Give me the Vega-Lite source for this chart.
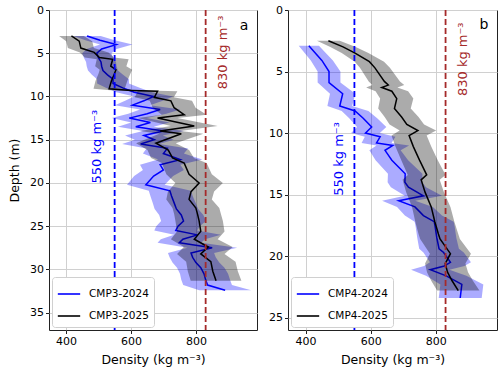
{
  "$schema": "https://vega.github.io/schema/vega-lite/v6.json",
  "padding": {"left": 8, "top": 3, "right": 2, "bottom": 2},
  "spacing": 10,
  "config": {
    "font": "DejaVu Sans",
    "view": {"stroke": "#222222", "strokeWidth": 1},
    "axis": {
      "domain": false, "grid": true, "gridColor": "#d0d0d0", "gridWidth": 1,
      "tickColor": "#222222", "tickSize": 3.5, "labelPadding": 2,
      "labelFontSize": 11, "labelColor": "black", "labelFont": "DejaVu Sans",
      "titleFontSize": 12.5, "titleFontWeight": "normal", "titleColor": "black", "titleFont": "DejaVu Sans"
    },
    "legend": {
      "orient": "bottom-left", "offset": 3, "padding": 5, "fillColor": "white",
      "strokeColor": "#d0d0d0", "cornerRadius": 3, "symbolType": "stroke",
      "symbolSize": 500, "symbolStrokeWidth": 1.6, "labelFontSize": 10.5,
      "labelFont": "DejaVu Sans", "labelColor": "black", "rowPadding": 4, "labelOffset": 8
    }
  },
  "resolve": {"scale": {"y": "independent", "color": "independent"}, "legend": {"color": "independent"}},
  "datasets": {
    "a24": [
      {"depth":3.0,"d":465,"lo":423,"hi":507},{"depth":3.5,"d":505,"lo":460,"hi":550},{"depth":4.0,"d":555,"lo":505,"hi":605},
      {"depth":4.5,"d":510,"lo":464,"hi":556},{"depth":5.0,"d":495,"lo":450,"hi":540},{"depth":5.5,"d":500,"lo":455,"hi":545},
      {"depth":6.0,"d":508,"lo":462,"hi":554},{"depth":6.5,"d":510,"lo":464,"hi":556},{"depth":7.0,"d":514,"lo":468,"hi":560},
      {"depth":7.5,"d":528,"lo":480,"hi":576},{"depth":8.0,"d":545,"lo":496,"hi":594},{"depth":8.5,"d":545,"lo":496,"hi":594},
      {"depth":9.0,"d":575,"lo":523,"hi":627},{"depth":9.5,"d":610,"lo":555,"hi":665},{"depth":10.0,"d":670,"lo":610,"hi":730},
      {"depth":10.5,"d":640,"lo":582,"hi":698},{"depth":11.0,"d":605,"lo":551,"hi":659},{"depth":11.5,"d":690,"lo":628,"hi":752},
      {"depth":12.0,"d":650,"lo":592,"hi":709},{"depth":12.5,"d":595,"lo":541,"hi":649},{"depth":13.0,"d":660,"lo":601,"hi":719},
      {"depth":13.5,"d":615,"lo":560,"hi":670},{"depth":14.0,"d":700,"lo":637,"hi":763},{"depth":14.5,"d":640,"lo":582,"hi":698},
      {"depth":15.0,"d":672,"lo":612,"hi":732},{"depth":15.5,"d":630,"lo":573,"hi":687},{"depth":16.0,"d":712,"lo":648,"hi":776},
      {"depth":16.6,"d":700,"lo":637,"hi":763},{"depth":17.3,"d":752,"lo":684,"hi":820},{"depth":17.9,"d":690,"lo":628,"hi":752},
      {"depth":18.5,"d":700,"lo":637,"hi":763},{"depth":19.2,"d":670,"lo":610,"hi":730},{"depth":20.2,"d":646,"lo":588,"hi":704},
      {"depth":20.9,"d":720,"lo":655,"hi":785},{"depth":21.5,"d":725,"lo":660,"hi":790},{"depth":22.3,"d":733,"lo":667,"hi":799},
      {"depth":23.0,"d":740,"lo":673,"hi":807},{"depth":23.7,"d":755,"lo":687,"hi":823},{"depth":24.4,"d":762,"lo":693,"hi":831},
      {"depth":25.0,"d":745,"lo":678,"hi":812},{"depth":25.5,"d":738,"lo":672,"hi":804},{"depth":26.0,"d":805,"lo":733,"hi":877},
      {"depth":26.5,"d":760,"lo":692,"hi":828},{"depth":26.9,"d":749,"lo":682,"hi":816},{"depth":27.5,"d":850,"lo":774,"hi":927},
      {"depth":28.1,"d":785,"lo":714,"hi":856},{"depth":28.6,"d":790,"lo":719,"hi":861},{"depth":29.2,"d":800,"lo":728,"hi":872},
      {"depth":29.8,"d":815,"lo":742,"hi":888},{"depth":30.5,"d":825,"lo":751,"hi":899},{"depth":31.2,"d":830,"lo":755,"hi":905},
      {"depth":31.8,"d":836,"lo":761,"hi":911},{"depth":32.4,"d":890,"lo":810,"hi":970}
    ],
    "a25": [
      {"depth":3.0,"d":417,"lo":379,"hi":455},{"depth":3.6,"d":441,"lo":401,"hi":481},{"depth":4.4,"d":446,"lo":406,"hi":486},
      {"depth":4.9,"d":487,"lo":443,"hi":531},{"depth":5.5,"d":503,"lo":458,"hi":548},{"depth":5.7,"d":544,"lo":495,"hi":593},
      {"depth":6.5,"d":538,"lo":490,"hi":586},{"depth":6.9,"d":554,"lo":504,"hi":604},{"depth":7.4,"d":549,"lo":500,"hi":598},
      {"depth":8.2,"d":540,"lo":491,"hi":589},{"depth":9.1,"d":533,"lo":485,"hi":581},{"depth":9.3,"d":600,"lo":546,"hi":654},
      {"depth":9.4,"d":682,"lo":621,"hi":743},{"depth":10.1,"d":672,"lo":612,"hi":732},{"depth":10.5,"d":723,"lo":658,"hi":788},
      {"depth":11.3,"d":733,"lo":667,"hi":799},{"depth":12.1,"d":764,"lo":695,"hi":833},{"depth":12.5,"d":682,"lo":621,"hi":743},
      {"depth":13.4,"d":795,"lo":723,"hi":867},{"depth":14.0,"d":690,"lo":628,"hi":752},{"depth":14.3,"d":755,"lo":687,"hi":823},
      {"depth":15.4,"d":677,"lo":616,"hi":738},{"depth":16.2,"d":715,"lo":651,"hi":779},{"depth":17.1,"d":728,"lo":662,"hi":794},
      {"depth":17.7,"d":764,"lo":695,"hi":833},{"depth":19.0,"d":779,"lo":709,"hi":849},{"depth":20.0,"d":810,"lo":737,"hi":883},
      {"depth":21.0,"d":785,"lo":714,"hi":856},{"depth":21.9,"d":779,"lo":709,"hi":849},{"depth":22.9,"d":800,"lo":728,"hi":872},
      {"depth":23.6,"d":805,"lo":733,"hi":877},{"depth":24.4,"d":810,"lo":737,"hi":883},{"depth":25.6,"d":815,"lo":742,"hi":888},
      {"depth":26.5,"d":795,"lo":723,"hi":867},{"depth":27.4,"d":838,"lo":763,"hi":913},{"depth":28.2,"d":815,"lo":742,"hi":888},
      {"depth":29.1,"d":846,"lo":770,"hi":922},{"depth":30.2,"d":852,"lo":775,"hi":929},{"depth":31.3,"d":862,"lo":784,"hi":940}
    ],
    "b24": [
      {"depth":2.9,"d":410,"lo":379,"hi":441},{"depth":4.1,"d":450,"lo":416,"hi":484},{"depth":5.0,"d":472,"lo":437,"hi":507},
      {"depth":5.9,"d":472,"lo":437,"hi":507},{"depth":6.8,"d":514,"lo":475,"hi":553},{"depth":7.8,"d":505,"lo":467,"hi":543},
      {"depth":8.2,"d":552,"lo":511,"hi":593},{"depth":8.8,"d":577,"lo":534,"hi":620},{"depth":9.5,"d":603,"lo":558,"hi":648},
      {"depth":10.0,"d":584,"lo":540,"hi":628},{"depth":10.3,"d":629,"lo":582,"hi":676},{"depth":10.8,"d":618,"lo":572,"hi":664},
      {"depth":11.0,"d":668,"lo":618,"hi":718},{"depth":11.4,"d":644,"lo":596,"hi":692},{"depth":12.2,"d":665,"lo":615,"hi":715},
      {"depth":13.3,"d":706,"lo":653,"hi":759},{"depth":14.0,"d":705,"lo":652,"hi":758},{"depth":14.4,"d":716,"lo":662,"hi":770},
      {"depth":15.1,"d":762,"lo":705,"hi":819},{"depth":15.5,"d":686,"lo":635,"hi":737},{"depth":16.0,"d":736,"lo":681,"hi":791},
      {"depth":16.7,"d":762,"lo":705,"hi":819},{"depth":17.2,"d":795,"lo":735,"hi":855},{"depth":17.6,"d":798,"lo":738,"hi":858},
      {"depth":18.5,"d":803,"lo":743,"hi":863},{"depth":19.4,"d":810,"lo":749,"hi":871},{"depth":19.7,"d":824,"lo":762,"hi":886},
      {"depth":20.5,"d":845,"lo":782,"hi":908},{"depth":20.8,"d":826,"lo":764,"hi":888},{"depth":21.1,"d":783,"lo":724,"hi":842},
      {"depth":21.6,"d":832,"lo":770,"hi":894},{"depth":22.3,"d":880,"lo":814,"hi":946},{"depth":23.4,"d":875,"lo":809,"hi":941}
    ],
    "b25": [
      {"depth":2.5,"d":470,"lo":435,"hi":505},{"depth":3.0,"d":515,"lo":476,"hi":554},{"depth":3.5,"d":552,"lo":511,"hi":593},
      {"depth":4.2,"d":596,"lo":551,"hi":641},{"depth":4.7,"d":613,"lo":567,"hi":659},{"depth":5.8,"d":642,"lo":594,"hi":690},
      {"depth":6.1,"d":654,"lo":605,"hi":703},{"depth":6.3,"d":634,"lo":586,"hi":682},{"depth":6.6,"d":665,"lo":615,"hi":715},
      {"depth":7.2,"d":680,"lo":629,"hi":731},{"depth":8.0,"d":673,"lo":623,"hi":723},{"depth":8.7,"d":695,"lo":643,"hi":747},
      {"depth":9.3,"d":711,"lo":658,"hi":764},{"depth":9.8,"d":745,"lo":689,"hi":801},{"depth":10.2,"d":718,"lo":664,"hi":772},
      {"depth":11.1,"d":731,"lo":676,"hi":786},{"depth":12.2,"d":750,"lo":694,"hi":806},{"depth":13.4,"d":772,"lo":714,"hi":830},
      {"depth":13.8,"d":755,"lo":698,"hi":812},{"depth":14.8,"d":767,"lo":709,"hi":825},{"depth":16.0,"d":786,"lo":727,"hi":845},
      {"depth":17.2,"d":797,"lo":737,"hi":857},{"depth":18.2,"d":808,"lo":747,"hi":869},{"depth":18.6,"d":813,"lo":752,"hi":874},
      {"depth":19.8,"d":845,"lo":782,"hi":908},{"depth":20.6,"d":829,"lo":767,"hi":891},{"depth":21.3,"d":836,"lo":773,"hi":899},
      {"depth":22.0,"d":850,"lo":786,"hi":914},{"depth":22.8,"d":869,"lo":804,"hi":934}
    ]
  },
  "hconcat": [
    {
      "width": 208, "height": 320,
      "layer": [
        {"data": {"name": "a24"}, "mark": {"type": "area", "orient": "horizontal", "color": "blue", "fillOpacity": 0.33, "clip": true},
         "encoding": {"x": {"field": "lo", "type": "quantitative", "scale": {"domain": [348, 988], "nice": false, "zero": false},
                            "axis": {"title": "Density (kg m⁻³)", "values": [400, 600, 800], "titlePadding": 7}},
                      "x2": {"field": "hi"},
                      "y": {"field": "depth", "type": "quantitative",
                            "scale": {"domain": [0, 37], "reverse": true, "nice": false, "zero": false},
                            "axis": {"title": "Depth (m)", "values": [0,5,10,15,20,25,30,35], "titlePadding": 8}}}},
        {"data": {"name": "a24"}, "mark": {"type": "line", "strokeWidth": 1.5, "clip": true},
         "encoding": {"x": {"field": "d", "type": "quantitative"}, "y": {"field": "depth", "type": "quantitative"}, "order": {"field": "depth"},
                      "color": {"datum": "CMP3-2024", "type": "nominal", "scale": {"domain": ["CMP3-2024", "CMP3-2025"], "range": ["blue", "black"]}, "legend": {"title": null}}}},
        {"data": {"name": "a25"}, "mark": {"type": "area", "orient": "horizontal", "color": "black", "fillOpacity": 0.33, "clip": true},
         "encoding": {"x": {"field": "lo", "type": "quantitative"}, "x2": {"field": "hi"}, "y": {"field": "depth", "type": "quantitative"}}},
        {"data": {"name": "a25"}, "mark": {"type": "line", "strokeWidth": 1.5, "clip": true},
         "encoding": {"x": {"field": "d", "type": "quantitative"}, "y": {"field": "depth", "type": "quantitative"}, "order": {"field": "depth"},
                      "color": {"datum": "CMP3-2025", "type": "nominal"}}},
        {"data": {"values": [{"v": 550}]}, "mark": {"type": "rule", "color": "blue", "strokeWidth": 1.8, "strokeDash": [6, 3]},
         "encoding": {"x": {"field": "v", "type": "quantitative"}}},
        {"data": {"values": [{"v": 830}]}, "mark": {"type": "rule", "color": "#a52a2a", "strokeWidth": 1.8, "strokeDash": [6, 3]},
         "encoding": {"x": {"field": "v", "type": "quantitative"}}},
        {"data": {"values": [{"x": 497, "y": 15.8, "t": "550 kg m⁻³"}]}, "mark": {"type": "text", "angle": 270, "color": "blue", "fontSize": 13, "align": "center", "baseline": "middle"},
         "encoding": {"x": {"field": "x", "type": "quantitative"}, "y": {"field": "y", "type": "quantitative"}, "text": {"field": "t"}}},
        {"data": {"values": [{"x": 884, "y": 4.9, "t": "830 kg m⁻³"}]}, "mark": {"type": "text", "angle": 270, "color": "#a52a2a", "fontSize": 13, "align": "center", "baseline": "middle"},
         "encoding": {"x": {"field": "x", "type": "quantitative"}, "y": {"field": "y", "type": "quantitative"}, "text": {"field": "t"}}},
        {"data": {"values": [{"x": 948, "y": 1.9, "t": "a"}]}, "mark": {"type": "text", "color": "black", "fontSize": 14, "align": "center", "baseline": "middle"},
         "encoding": {"x": {"field": "x", "type": "quantitative"}, "y": {"field": "y", "type": "quantitative"}, "text": {"field": "t"}}}
      ]
    },
    {
      "width": 209, "height": 320,
      "layer": [
        {"data": {"name": "b24"}, "mark": {"type": "area", "orient": "horizontal", "color": "blue", "fillOpacity": 0.33, "clip": true},
         "encoding": {"x": {"field": "lo", "type": "quantitative", "scale": {"domain": [346, 988], "nice": false, "zero": false},
                            "axis": {"title": "Density (kg m⁻³)", "values": [400, 600, 800], "titlePadding": 7}},
                      "x2": {"field": "hi"},
                      "y": {"field": "depth", "type": "quantitative",
                            "scale": {"domain": [0, 26], "reverse": true, "nice": false, "zero": false},
                            "axis": {"title": null, "values": [0,5,10,15,20,25]}}}},
        {"data": {"name": "b24"}, "mark": {"type": "line", "strokeWidth": 1.5, "clip": true},
         "encoding": {"x": {"field": "d", "type": "quantitative"}, "y": {"field": "depth", "type": "quantitative"}, "order": {"field": "depth"},
                      "color": {"datum": "CMP4-2024", "type": "nominal", "scale": {"domain": ["CMP4-2024", "CMP4-2025"], "range": ["blue", "black"]}, "legend": {"title": null}}}},
        {"data": {"name": "b25"}, "mark": {"type": "area", "orient": "horizontal", "color": "black", "fillOpacity": 0.33, "clip": true},
         "encoding": {"x": {"field": "lo", "type": "quantitative"}, "x2": {"field": "hi"}, "y": {"field": "depth", "type": "quantitative"}}},
        {"data": {"name": "b25"}, "mark": {"type": "line", "strokeWidth": 1.5, "clip": true},
         "encoding": {"x": {"field": "d", "type": "quantitative"}, "y": {"field": "depth", "type": "quantitative"}, "order": {"field": "depth"},
                      "color": {"datum": "CMP4-2025", "type": "nominal"}}},
        {"data": {"values": [{"v": 550}]}, "mark": {"type": "rule", "color": "blue", "strokeWidth": 1.8, "strokeDash": [6, 3]},
         "encoding": {"x": {"field": "v", "type": "quantitative"}}},
        {"data": {"values": [{"v": 830}]}, "mark": {"type": "rule", "color": "#a52a2a", "strokeWidth": 1.8, "strokeDash": [6, 3]},
         "encoding": {"x": {"field": "v", "type": "quantitative"}}},
        {"data": {"values": [{"x": 503, "y": 12.1, "t": "550 kg m⁻³"}]}, "mark": {"type": "text", "angle": 270, "color": "blue", "fontSize": 13, "align": "center", "baseline": "middle"},
         "encoding": {"x": {"field": "x", "type": "quantitative"}, "y": {"field": "y", "type": "quantitative"}, "text": {"field": "t"}}},
        {"data": {"values": [{"x": 885, "y": 4.0, "t": "830 kg m⁻³"}]}, "mark": {"type": "text", "angle": 270, "color": "#a52a2a", "fontSize": 13, "align": "center", "baseline": "middle"},
         "encoding": {"x": {"field": "x", "type": "quantitative"}, "y": {"field": "y", "type": "quantitative"}, "text": {"field": "t"}}},
        {"data": {"values": [{"x": 948, "y": 1.25, "t": "b"}]}, "mark": {"type": "text", "color": "black", "fontSize": 14, "align": "center", "baseline": "middle"},
         "encoding": {"x": {"field": "x", "type": "quantitative"}, "y": {"field": "y", "type": "quantitative"}, "text": {"field": "t"}}}
      ]
    }
  ]
}
